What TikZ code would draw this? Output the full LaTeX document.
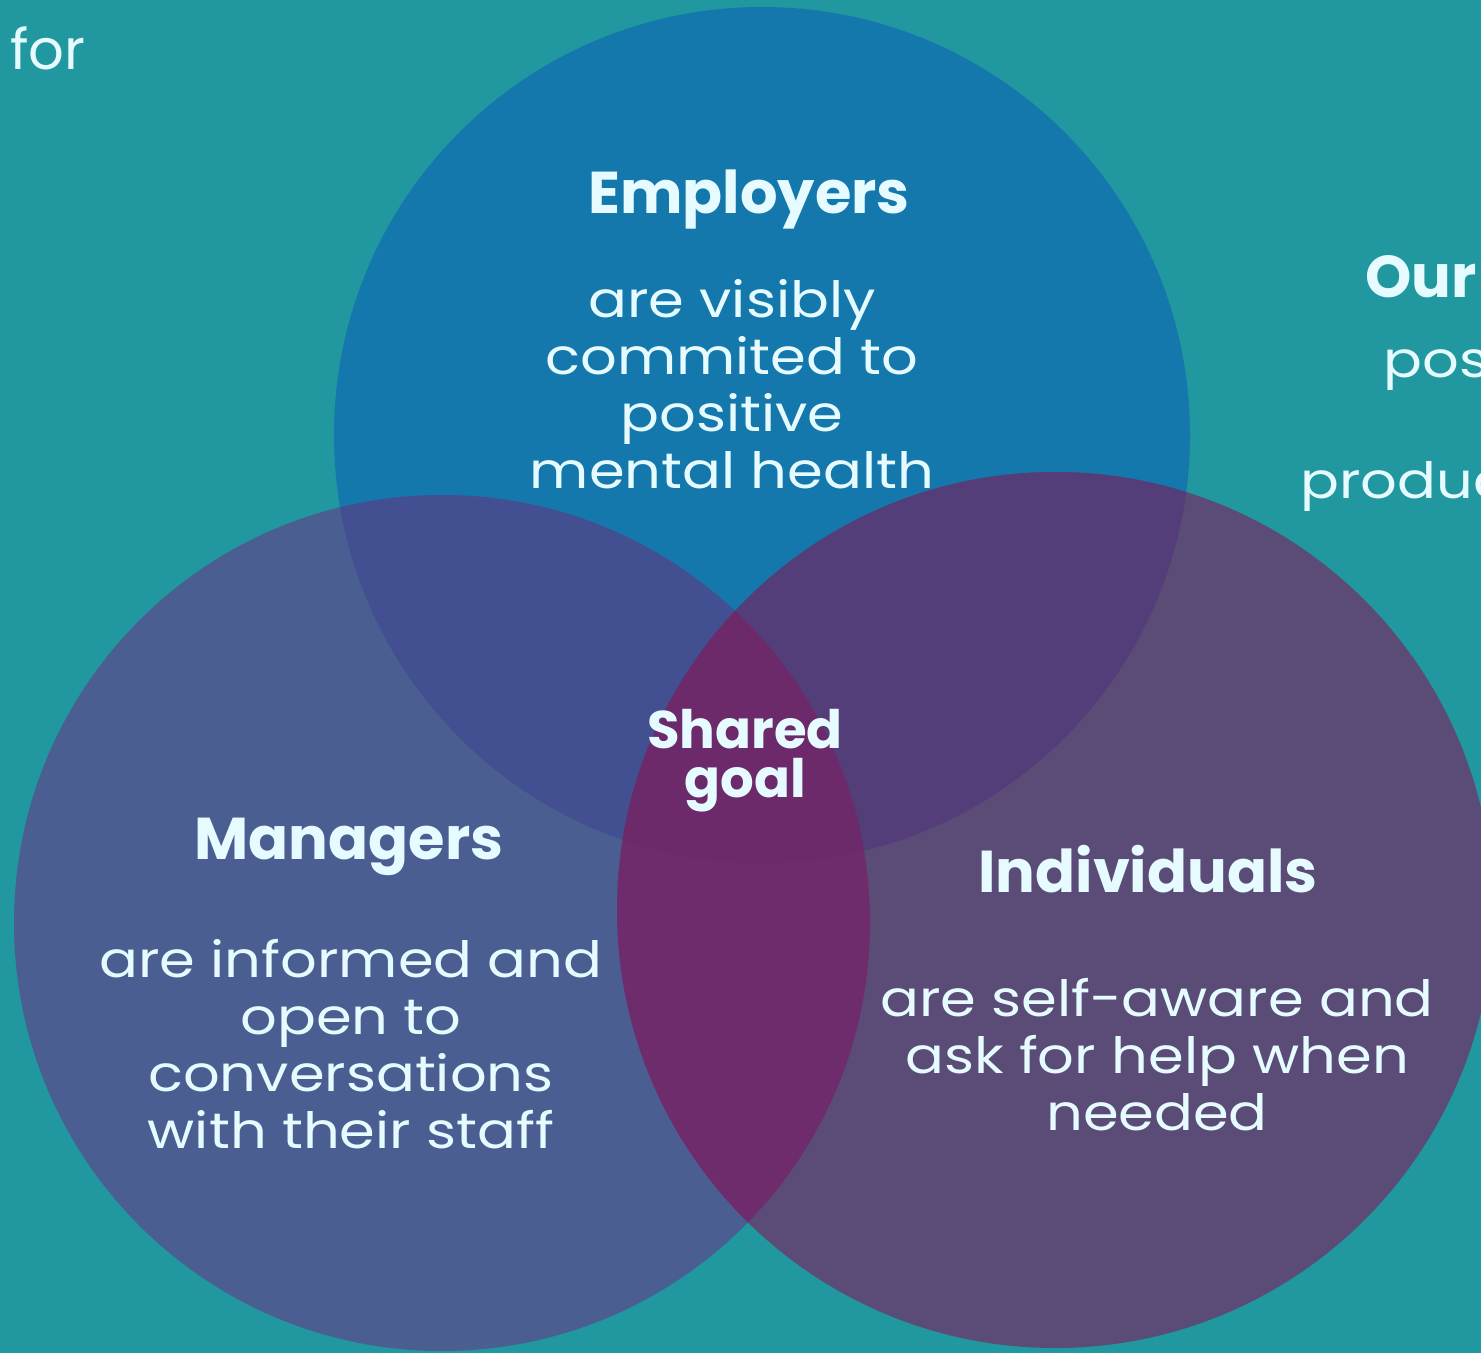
\documentclass[tikz,border=0pt]{standalone}
\usepackage{fontspec}
\setmainfont{Poppins}
\newfontfamily\widefont[FakeStretch=1.15]{Poppins}
\definecolor{bg}{HTML}{2197A0}
\definecolor{cT}{HTML}{1478AC}
\definecolor{cL}{HTML}{4A5E91}
\definecolor{cR}{HTML}{5A4C76}
\definecolor{cTL}{HTML}{425092}
\definecolor{cTR}{HTML}{533E7A}
\definecolor{cLR}{HTML}{6E2C6C}
\definecolor{cTLR}{HTML}{6C2A6A}
\definecolor{txt}{HTML}{E6FBFF}
\tikzset{
  body/.style={text=txt, align=center, font=\widefont\fontsize{25}{28.5}\selectfont, inner sep=0pt},
  head/.style={text=txt, align=center, font=\fontsize{29.5}{30}\selectfont\bfseries, inner sep=0pt},
  side/.style={text=txt, anchor=base west, inner sep=0pt},
}
\begin{document}
\begin{tikzpicture}[x=0.5pt,y=-0.5pt]
\fill[bg] (0,0) rectangle (1481,1353);
\useasboundingbox (0,0) rectangle (1481,1353);
\coordinate (T) at (762,435);
\coordinate (L) at (442,923);
\coordinate (R) at (1055,910);
\def\rT{214pt}\def\rL{214pt}\def\rR{219pt}
\begin{scope}
\clip (0,0) rectangle (1481,1353);
\fill[cT] (T) circle[radius=\rT];
\fill[cL] (L) circle[radius=\rL];
\fill[cR] (R) circle[radius=\rR];
\begin{scope}\clip (T) circle[radius=\rT]; \fill[cTL] (L) circle[radius=\rL];\end{scope}
\begin{scope}\clip (T) circle[radius=\rT]; \fill[cTR] (R) circle[radius=\rR];\end{scope}
\begin{scope}\clip (L) circle[radius=\rL]; \fill[cLR] (R) circle[radius=\rR];\end{scope}
\begin{scope}\clip (T) circle[radius=\rT]; \clip (L) circle[radius=\rL]; \fill[cTLR] (R) circle[radius=\rR];\end{scope}
% side texts (cut at the right edge, as in the reference)
\node[side, font=\fontsize{28}{30}\selectfont] (for) at (10,70) {for};
\node[side, font=\fontsize{29.5}{30}\selectfont\bfseries] (our) at (1365,298) {Our};
\node[side, font=\widefont\fontsize{25}{30}\selectfont] (pos) at (1383,378) {positive};
\node[side, font=\widefont\fontsize{25}{30}\selectfont] (prod) at (1300,498) {productive};
\end{scope}
\node[head] (emp) at (749,200) {Employers};
\node[body] (empt) at (732,384) {are visibly\\commited to\\positive\\mental health};
\node[head, font=\fontsize{26.5}{24.5}\selectfont\bfseries] (shared) at (745,761) {Shared\\goal};
\node[head] (man) at (349,847) {Managers};
\node[body] (mant) at (351,1044) {are informed and\\open to\\conversations\\with their staff};
\node[head] (ind) at (1148,869) {Individuals};
\node[body] (indt) at (1157,1055) {are self-aware and\\ask for help when\\needed};
\end{tikzpicture}
\end{document}
